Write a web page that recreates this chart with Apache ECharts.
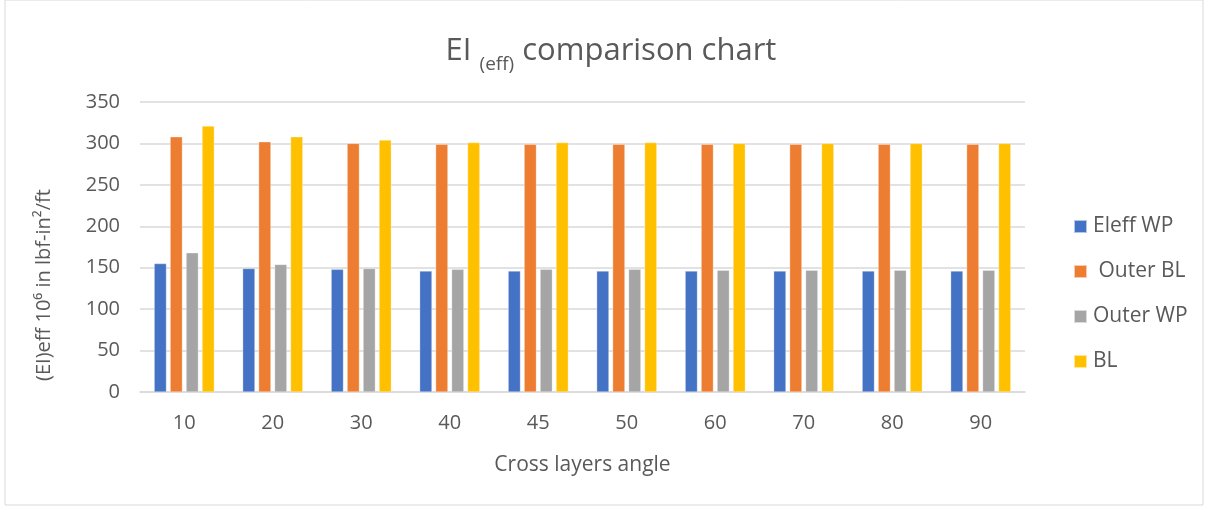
<!DOCTYPE html>
<html><head><meta charset="utf-8">
<script src="https://cdn.jsdelivr.net/npm/echarts@6/dist/echarts.min.js"></script>
<style>html,body{margin:0;padding:0;background:#fff}#c{width:1208px;height:510px}</style>
</head><body><div id="c"></div>
<script>
const categories = ['10','20','30','40','45','50','60','70','80','90'];
const seriesNames = ['Eleff WP',' Outer BL','Outer WP','BL'];
const eleffWP = [155,149,148,146,146,146,146,146,146,146];
const outerBL = [308,302,300,299,299,299,299,299,299,299];
const outerWP = [168,154,149,148,148,148,147,147,147,147];
const bl = [321,308,304,301,301,301,300,300,300,300];
const colors = ['#4472C4','#ED7D31','#A5A5A5','#FFC000'];
const font = 'Open Sans, Noto Sans, sans-serif';
const chart = echarts.init(document.getElementById('c'));
const data = [eleffWP, outerBL, outerWP, bl];
chart.setOption({
  animation:false,
  color: colors,
  graphic:[{type:'rect',shape:{x:5,y:0,width:1198,height:505},style:{fill:'none',stroke:'#d9d9d9',lineWidth:1}}],
  title:{
    text:'{a|EI }{b|(eff)}{a| comparison chart}',
    top:24, left:606,
    textAlign:'center',
    textStyle:{fontWeight:'normal',rich:{
      a:{fontSize:31,color:'#595959',fontFamily:font,fontWeight:'normal',verticalAlign:'bottom',lineHeight:38},
      b:{fontSize:19,color:'#595959',fontFamily:font,fontWeight:'normal',verticalAlign:'bottom',lineHeight:28,padding:[0,0,-7,0]}
    }}
  },
  legend:{
    orient:'vertical', left:1068, top:211, itemGap:24,
    itemWidth:13, itemHeight:13, icon:'rect',
    textStyle:{fontSize:21,color:'#595959',fontFamily:font,padding:[0,0,0,1]}
  },
  grid:{left:140,right:183,top:102,bottom:118},
  xAxis:{
    type:'category', data:categories,
    name:'Cross layers angle', nameLocation:'middle', nameGap:63,
    nameTextStyle:{fontSize:21,color:'#595959',fontFamily:font},
    axisTick:{show:false},
    axisLine:{lineStyle:{color:'#d9d9d9',width:1.5}},
    axisLabel:{fontSize:20,color:'#595959',fontFamily:font,margin:21}
  },
  yAxis:{
    type:'value', min:0, max:350, interval:50,
    name:'(EI)eff 10\u2076 in lbf-in\u00b2/ft', nameLocation:'middle', nameGap:86,
    nameTextStyle:{fontSize:20,color:'#595959',fontFamily:font,padding:[0,76,0,0]},
    axisLabel:{fontSize:20,color:'#595959',fontFamily:font,margin:20},
    splitLine:{lineStyle:{color:'#d9d9d9',width:1.5}},
    axisLine:{show:false}, axisTick:{show:false}
  },
  series: data.map((d,i)=>({
    name:seriesNames[i], type:'bar', data:d,
    barGap:'30%', barCategoryGap:'32%',
    itemStyle:{color:colors[i],borderColor:'rgba(255,255,255,0.6)',borderWidth:0.5}
  }))
});
</script></body></html>
